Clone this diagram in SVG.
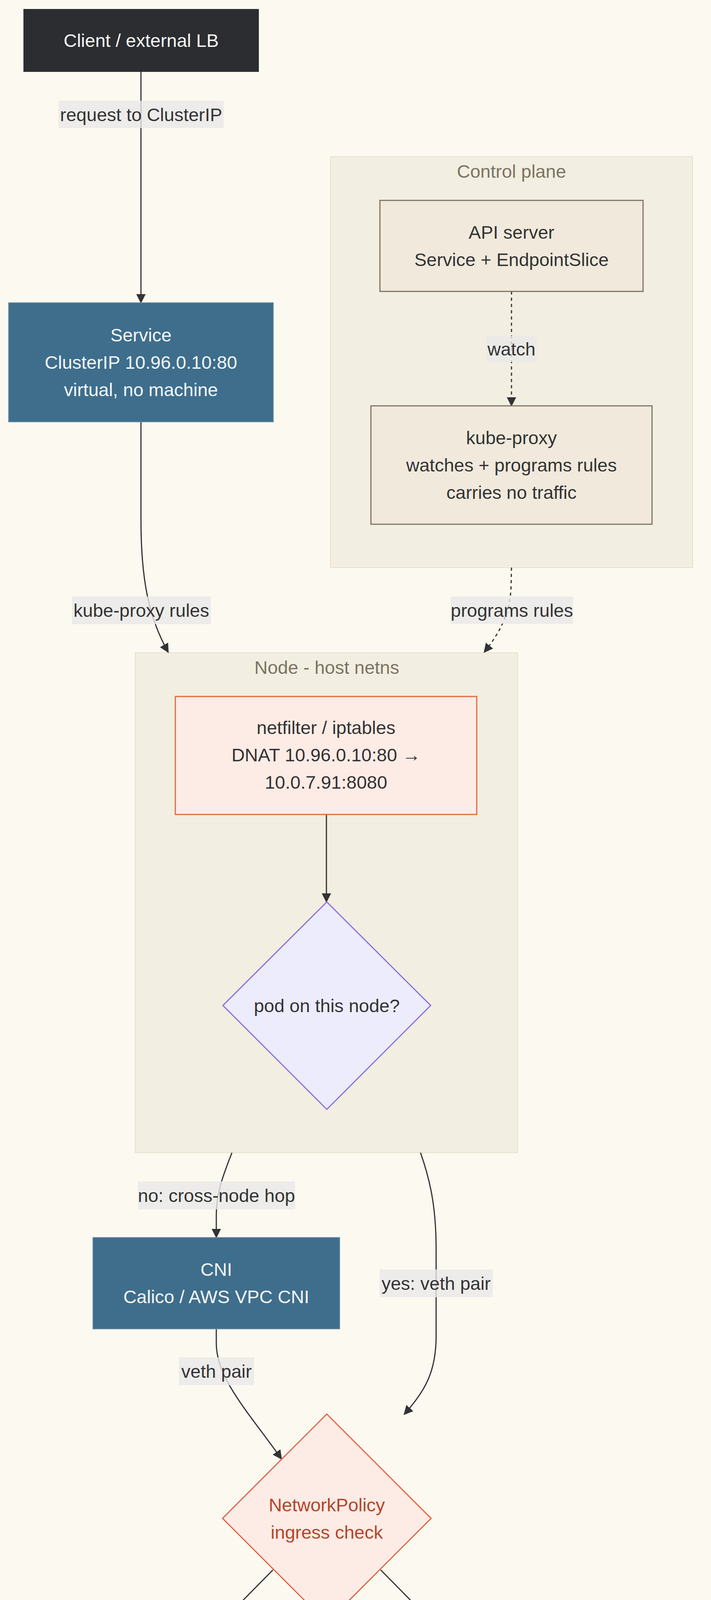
<svg xmlns="http://www.w3.org/2000/svg" width="1821" height="4686" viewBox="0 0 1821 4686">
<defs>
<style>
text{font-family:"Liberation Sans",Arial,sans-serif;font-size:47px;text-anchor:middle;dominant-baseline:central;fill:#333333}
.cluster{fill:#f2eee1;stroke:#e6e1d0;stroke-width:2}
.ctitle{fill:#7a7461}
.edge{fill:none;stroke:#333333;stroke-width:3}
.dotted{stroke-dasharray:8 8}
.lbl{fill:#e8e8e8;fill-opacity:0.8}
.dark{fill:#2b2d31}
.blue{fill:#3e6e8c;stroke:#6a8ea6;stroke-width:2}
.beige{fill:#f0e9dc;stroke:#7d7666;stroke-width:3}
.white{fill:#f7f7f7}
.orange{fill:#fdebe5;stroke:#e0693e;stroke-width:3}
.purple{fill:#ececfc;stroke:#8a70d6;stroke-width:3}
.red{fill:#b5452a}
.podtxt{fill:#9cb9ae}
</style>
<marker id="arrow" viewBox="0 0 24 24" refX="22" refY="12" markerWidth="24" markerHeight="24" markerUnits="userSpaceOnUse" orient="auto">
<path d="M0,0 L24,12 L0,24 z" fill="#333333"/>
</marker>
</defs>
<rect x="0" y="0" width="1821" height="4686" fill="#fcf9f0"/>

<g id="cluster-control-plane">
<rect class="cluster" x="846" y="401" width="928" height="1052"/>
<text class="ctitle" x="1310" y="438">Control plane</text>
</g>
<g id="cluster-node">
<rect class="cluster" x="346" y="1671" width="980" height="1280"/>
<text class="ctitle" x="837" y="1708">Node - host netns</text>
</g>

<g id="connectors">
<path class="edge" d="M361,184 L361,775" marker-end="url(#arrow)"/>
<rect class="lbl" x="150" y="258" width="423" height="70"/>
<text x="361.5" y="293">request to ClusterIP</text>

<path class="edge" d="M361,1080 L361,1330 C361,1480 380,1580 431,1670" marker-end="url(#arrow)"/>
<rect class="lbl" x="184" y="1527" width="356" height="71"/>
<text x="362" y="1562.5">kube-proxy rules</text>

<path class="edge dotted" d="M1310,746 L1310,1039" marker-end="url(#arrow)"/>
<rect class="lbl" x="1246" y="859" width="128" height="68"/>
<text x="1310" y="893">watch</text>

<path class="edge dotted" d="M1310,1453 L1309,1500 C1307,1570 1280,1620 1240,1670" marker-end="url(#arrow)"/>
<rect class="lbl" x="1154" y="1527" width="314" height="70"/>
<text x="1311" y="1562">programs rules</text>

<path class="edge" d="M836,2085 L836,2309" marker-end="url(#arrow)"/>

<path class="edge" d="M594,2951 C575,3000 554,3050 554,3110 L554,3168" marker-end="url(#arrow)"/>
<rect class="lbl" x="353" y="3024" width="403" height="72"/>
<text x="554.5" y="3060">no: cross-node hop</text>

<path class="edge" d="M1077,2951 C1105,3030 1117,3100 1117,3200 L1117,3420 C1117,3510 1090,3560 1035,3621" marker-end="url(#arrow)"/>
<rect class="lbl" x="972" y="3250" width="290" height="71"/>
<text x="1117" y="3285.5">yes: veth pair</text>

<path class="edge" d="M554,3402 L554,3440 C554,3530 640,3620 721,3735" marker-end="url(#arrow)"/>
<rect class="lbl" x="458" y="3475" width="193" height="71"/>
<text x="554.5" y="3510.5">veth pair</text>

<path class="edge" d="M699,4019 L560,4160 C470,4250 449,4290 449,4330 L449,4372" marker-end="url(#arrow)"/>
<rect class="lbl" x="366" y="4228" width="166" height="71"/>
<text x="449" y="4263.5">allowed</text>

<path class="edge" d="M975,4019 L1114,4160 C1204,4250 1222,4290 1222,4330 L1222,4372" marker-end="url(#arrow)"/>
<rect class="lbl" x="1150" y="4228" width="146" height="71"/>
<text x="1223" y="4263.5">denied</text>
</g>

<g id="node-client">
<rect class="dark" x="60" y="23" width="603" height="161"/>
<text class="white" x="361.5" y="103">Client / external LB</text>
</g>

<g id="node-service">
<rect class="blue" x="22" y="775" width="678" height="305"/>
<text class="white" x="361" y="857">Service</text>
<text class="white" x="361" y="927">ClusterIP 10.96.0.10:80</text>
<text class="white" x="361" y="997">virtual, no machine</text>
</g>

<g id="node-apiserver">
<rect class="beige" x="973" y="513" width="674" height="233"/>
<text x="1310" y="594">API server</text>
<text x="1310" y="664">Service + EndpointSlice</text>
</g>

<g id="node-kubeproxy">
<rect class="beige" x="950" y="1039" width="720" height="303"/>
<text x="1310" y="1120">kube-proxy</text>
<text x="1310" y="1190">watches + programs rules</text>
<text x="1310" y="1260">carries no traffic</text>
</g>

<g id="node-netfilter">
<rect class="orange" x="449" y="1783" width="772" height="302"/>
<text x="835" y="1862">netfilter / iptables</text>
<text x="835" y="1932">DNAT 10.96.0.10:80 →</text>
<text x="835" y="2002">10.0.7.91:8080</text>
</g>

<g id="node-podcheck">
<polygon class="purple" points="837,2309 1103,2574 837,2840 571,2574"/>
<text x="837" y="2574">pod on this node?</text>
</g>

<g id="node-cni">
<rect class="blue" x="238" y="3168" width="632" height="234"/>
<text class="white" x="554" y="3249">CNI</text>
<text class="white" x="554" y="3319">Calico / AWS VPC CNI</text>
</g>

<g id="node-networkpolicy">
<polygon class="orange" points="837,3620 1104,3887 837,4154 570,3887" style="stroke:#e06440"/>
<text class="red" x="837" y="3852">NetworkPolicy</text>
<text class="red" x="837" y="3922">ingress check</text>
</g>

<g id="node-pod">
<rect class="dark" x="77" y="4372" width="743" height="234"/>
<text class="podtxt" x="448.5" y="4453">Pod: application container</text>
<text class="podtxt" x="448.5" y="4523">real IP 10.0.7.91</text>
</g>

<g id="node-dropped">
<rect x="966" y="4372" width="512" height="233" fill="#f6e2dd" stroke="#c9502f" stroke-width="3"/>
<text class="red" x="1222" y="4453">packet dropped</text>
<text class="red" x="1222" y="4523">silent, no error</text>
</g>
</svg>
